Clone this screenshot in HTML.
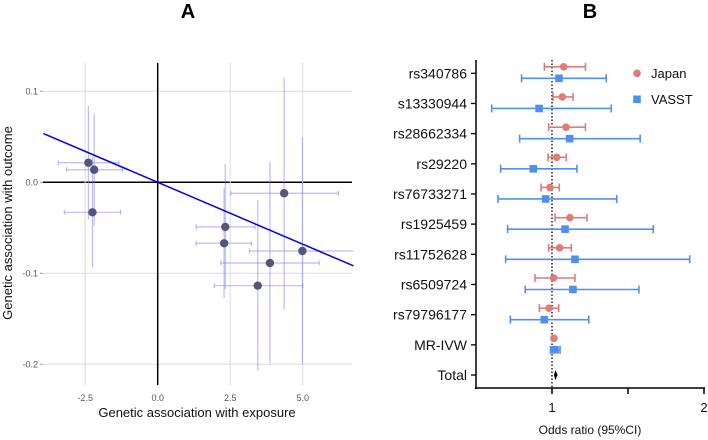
<!DOCTYPE html>
<html><head><meta charset="utf-8"><style>
body{margin:0;background:#fff;}
svg{display:block;font-family:"Liberation Sans",sans-serif;}
</style></head><body>
<svg width="708" height="440" viewBox="0 0 708 440">
<text x="188" y="18" font-size="20" font-weight="bold" text-anchor="middle">A</text>
<text x="590" y="18" font-size="20" font-weight="bold" text-anchor="middle">B</text>
<g id="pa"></g>
<g id="pb"></g>
</svg>
<script>
// Panel A data
const snpX=[-2.39,-2.19,-2.25,4.36,2.33,2.29,4.99,3.87,3.45];
const snpY=[0.0215,0.0138,-0.033,-0.012,-0.049,-0.067,-0.0755,-0.0887,-0.1136];
const snpXlo=[-3.43,-3.14,-3.22,2.52,1.33,1.33,3.16,2.18,1.95];
const snpXhi=[-1.34,-1.22,-1.28,6.23,3.36,3.23,6.8,5.57,5.0];
const snpYlo=[-0.041,-0.048,-0.093,-0.14,-0.117,-0.127,-0.2,-0.199,-0.207];
const snpYhi=[0.084,0.075,0.027,0.115,0.02,-0.006,0.049,0.022,-0.0195];
const ivwSlope=[-0.0136];
const xTicksA=[-2.5,0,2.5,5];
const xTickLabA=["-2.5","0.0","2.5","5.0"];
const yTicksA=[0.1,0,-0.1,-0.2];
const yTickLabA=["0.1","0.0","-0.1","-0.2"];
// Panel B data
const rowLabels=["rs340786","s13330944","rs28662334","rs29220","rs76733271","rs1925459","rs11752628","rs6509724","rs79796177","MR-IVW","Total"];
const japanOR=[1.077,1.068,1.092,1.031,0.987,1.118,1.05,1.011,0.98,1.013];
const japanLo=[0.95,1.007,0.978,0.974,0.928,1.02,0.978,0.888,0.917,1.013];
const japanHi=[1.22,1.138,1.22,1.094,1.048,1.23,1.127,1.151,1.044,1.013];
const vasstOR=[1.046,0.915,1.116,0.877,0.958,1.086,1.151,1.138,0.949,1.02];
const vasstLo=[0.80,0.603,0.787,0.662,0.645,0.708,0.695,0.824,0.726,0.99];
const vasstHi=[1.357,1.39,1.58,1.164,1.426,1.666,1.906,1.572,1.242,1.053];
const totalOR=[1.022,1.013,1.037];
const xTicksB=[1,1.5,2];
const xTickLabB=["1","","2"];

const NS="http://www.w3.org/2000/svg";
function mk(p,t,a){const e=document.createElementNS(NS,t);for(const k in a)e.setAttribute(k,a[k]);p.appendChild(e);return e;}

// Panel A
const pa=document.getElementById('pa');
const ax=v=>157.7+v*29, ay=v=>182.3-v*910;
const L=43,R=352,T=63,B=385;
yTicksA.forEach((v,i)=>{
 const g=mk(pa,'line',{x1:L,x2:R,y1:ay(v),y2:ay(v),stroke:v===0?'#000':'#ddd','stroke-width':v===0?1.5:1});
 
 mk(pa,'line',{x1:L-3,x2:L,y1:ay(v),y2:ay(v),stroke:'#999'});
 const t=mk(pa,'text',{x:L-5,y:ay(v)+3,'font-size':9,fill:'#555','text-anchor':'end'});t.textContent=yTickLabA[i];
 
});
xTicksA.forEach((v,i)=>{
 const g=mk(pa,'line',{x1:ax(v),x2:ax(v),y1:T,y2:B,stroke:v===0?'#000':'#ddd','stroke-width':v===0?1.5:1});
 
 const t=mk(pa,'text',{x:ax(v),y:401,'font-size':9,fill:'#555','text-anchor':'middle'});t.textContent=xTickLabA[i];
 
});
snpX.forEach((x,i)=>{
 const c='rgba(120,120,255,0.5)';
 const v=mk(pa,'line',{x1:ax(x),x2:ax(x),y1:ay(snpYlo[i]),y2:ay(snpYhi[i]),stroke:c,'stroke-width':1.2});
 
 const h=mk(pa,'line',{x1:ax(snpXlo[i]),x2:ax(Math.min(snpXhi[i],6.75)),y1:ay(snpY[i]),y2:ay(snpY[i]),stroke:c,'stroke-width':1.2});
 
 [snpXlo[i],snpXhi[i]].forEach(e=>{if(e<6.75)mk(pa,'line',{x1:ax(e),x2:ax(e),y1:ay(snpY[i])-2.5,y2:ay(snpY[i])+2.5,stroke:c,'stroke-width':1.2});});
});
const ln=mk(pa,'line',{x1:ax(-3.94),y1:ay(-3.94*ivwSlope[0]),x2:ax(6.75),y2:ay(6.75*ivwSlope[0]),stroke:'#0000ee','stroke-width':1.5});

snpX.forEach((x,i)=>{
 const p=mk(pa,'circle',{cx:ax(x),cy:ay(snpY[i]),r:4.2,fill:'#55557a'});
 
});
{const t=mk(pa,'text',{x:197,y:417,'font-size':13,fill:'#111','text-anchor':'middle'});t.textContent='Genetic association with exposure';

const t2=mk(pa,'text',{x:0,y:0,'font-size':13,fill:'#111','text-anchor':'middle',transform:'translate(12,223) rotate(-90)'});t2.textContent='Genetic association with outcome';
}

// Panel B
const pb=document.getElementById('pb');
const bx=v=>476+(v-0.5)*152, by=i=>73.3+i*30.17;
const JC='#e07b78', VC='#4f8ff0';
mk(pb,'line',{x1:476,x2:476,y1:60,y2:389,stroke:'#000','stroke-width':1.5});
mk(pb,'line',{x1:475,x2:705,y1:388,y2:388,stroke:'#000','stroke-width':1.5});
xTicksB.forEach((v,i)=>{
 mk(pb,'line',{x1:bx(v),x2:bx(v),y1:388,y2:394,stroke:'#000','stroke-width':1.5});
 const t=mk(pb,'text',{x:bx(v),y:412,'font-size':13,fill:'#111','text-anchor':'middle'});t.textContent=xTickLabB[i];
 
});
{const d=mk(pb,'line',{x1:bx(1),x2:bx(1),y1:60,y2:388,stroke:'#000','stroke-width':1.3,'stroke-dasharray':'1.5,2'});
}
rowLabels.forEach((lab,i)=>{
 mk(pb,'line',{x1:471,x2:476,y1:by(i),y2:by(i),stroke:'#000','stroke-width':1.3});
 const t=mk(pb,'text',{x:467,y:by(i)+5,'font-size':14,fill:'#111','text-anchor':'end'});t.textContent=lab;
 
});
function ci(lo,hi,y,c){
 if(hi-lo<0.001)return;
 mk(pb,'line',{x1:bx(lo),x2:bx(hi),y1:y,y2:y,stroke:c,'stroke-width':1.6});
 mk(pb,'line',{x1:bx(lo),x2:bx(lo),y1:y-4,y2:y+4,stroke:c,'stroke-width':1.6});
 mk(pb,'line',{x1:bx(hi),x2:bx(hi),y1:y-4,y2:y+4,stroke:c,'stroke-width':1.6});
}
japanOR.forEach((v,i)=>{
 const y=by(i)-6.5;ci(japanLo[i],japanHi[i],y,JC);
 const p=mk(pb,'circle',{cx:bx(v),cy:y,r:3.8,fill:JC});
 
});
vasstOR.forEach((v,i)=>{
 const y=by(i)+5;ci(vasstLo[i],vasstHi[i],y,VC);
 const p=mk(pb,'rect',{x:bx(v)-3.8,y:y-3.8,width:7.6,height:7.6,fill:VC});
 
});
{const y=by(10);
const dm=mk(pb,'polygon',{points:`${bx(totalOR[1])},${y} ${bx(totalOR[0])},${y-5} ${bx(totalOR[2])},${y} ${bx(totalOR[0])},${y+5}`,fill:'#000'});
}
{const t=mk(pb,'text',{x:590,y:434,'font-size':12,fill:'#111','text-anchor':'middle'});t.textContent='Odds ratio (95%CI)';
}
{const c=mk(pb,'circle',{cx:637,cy:73.3,r:3.8,fill:JC});
const t=mk(pb,'text',{x:651,y:78,'font-size':13,fill:'#111'});t.textContent='Japan';
const r=mk(pb,'rect',{x:633.2,y:95.5,width:7.6,height:7.6,fill:VC});
const t2=mk(pb,'text',{x:651,y:104,'font-size':13,fill:'#111'});t2.textContent='VASST';}
</script>
</body></html>
